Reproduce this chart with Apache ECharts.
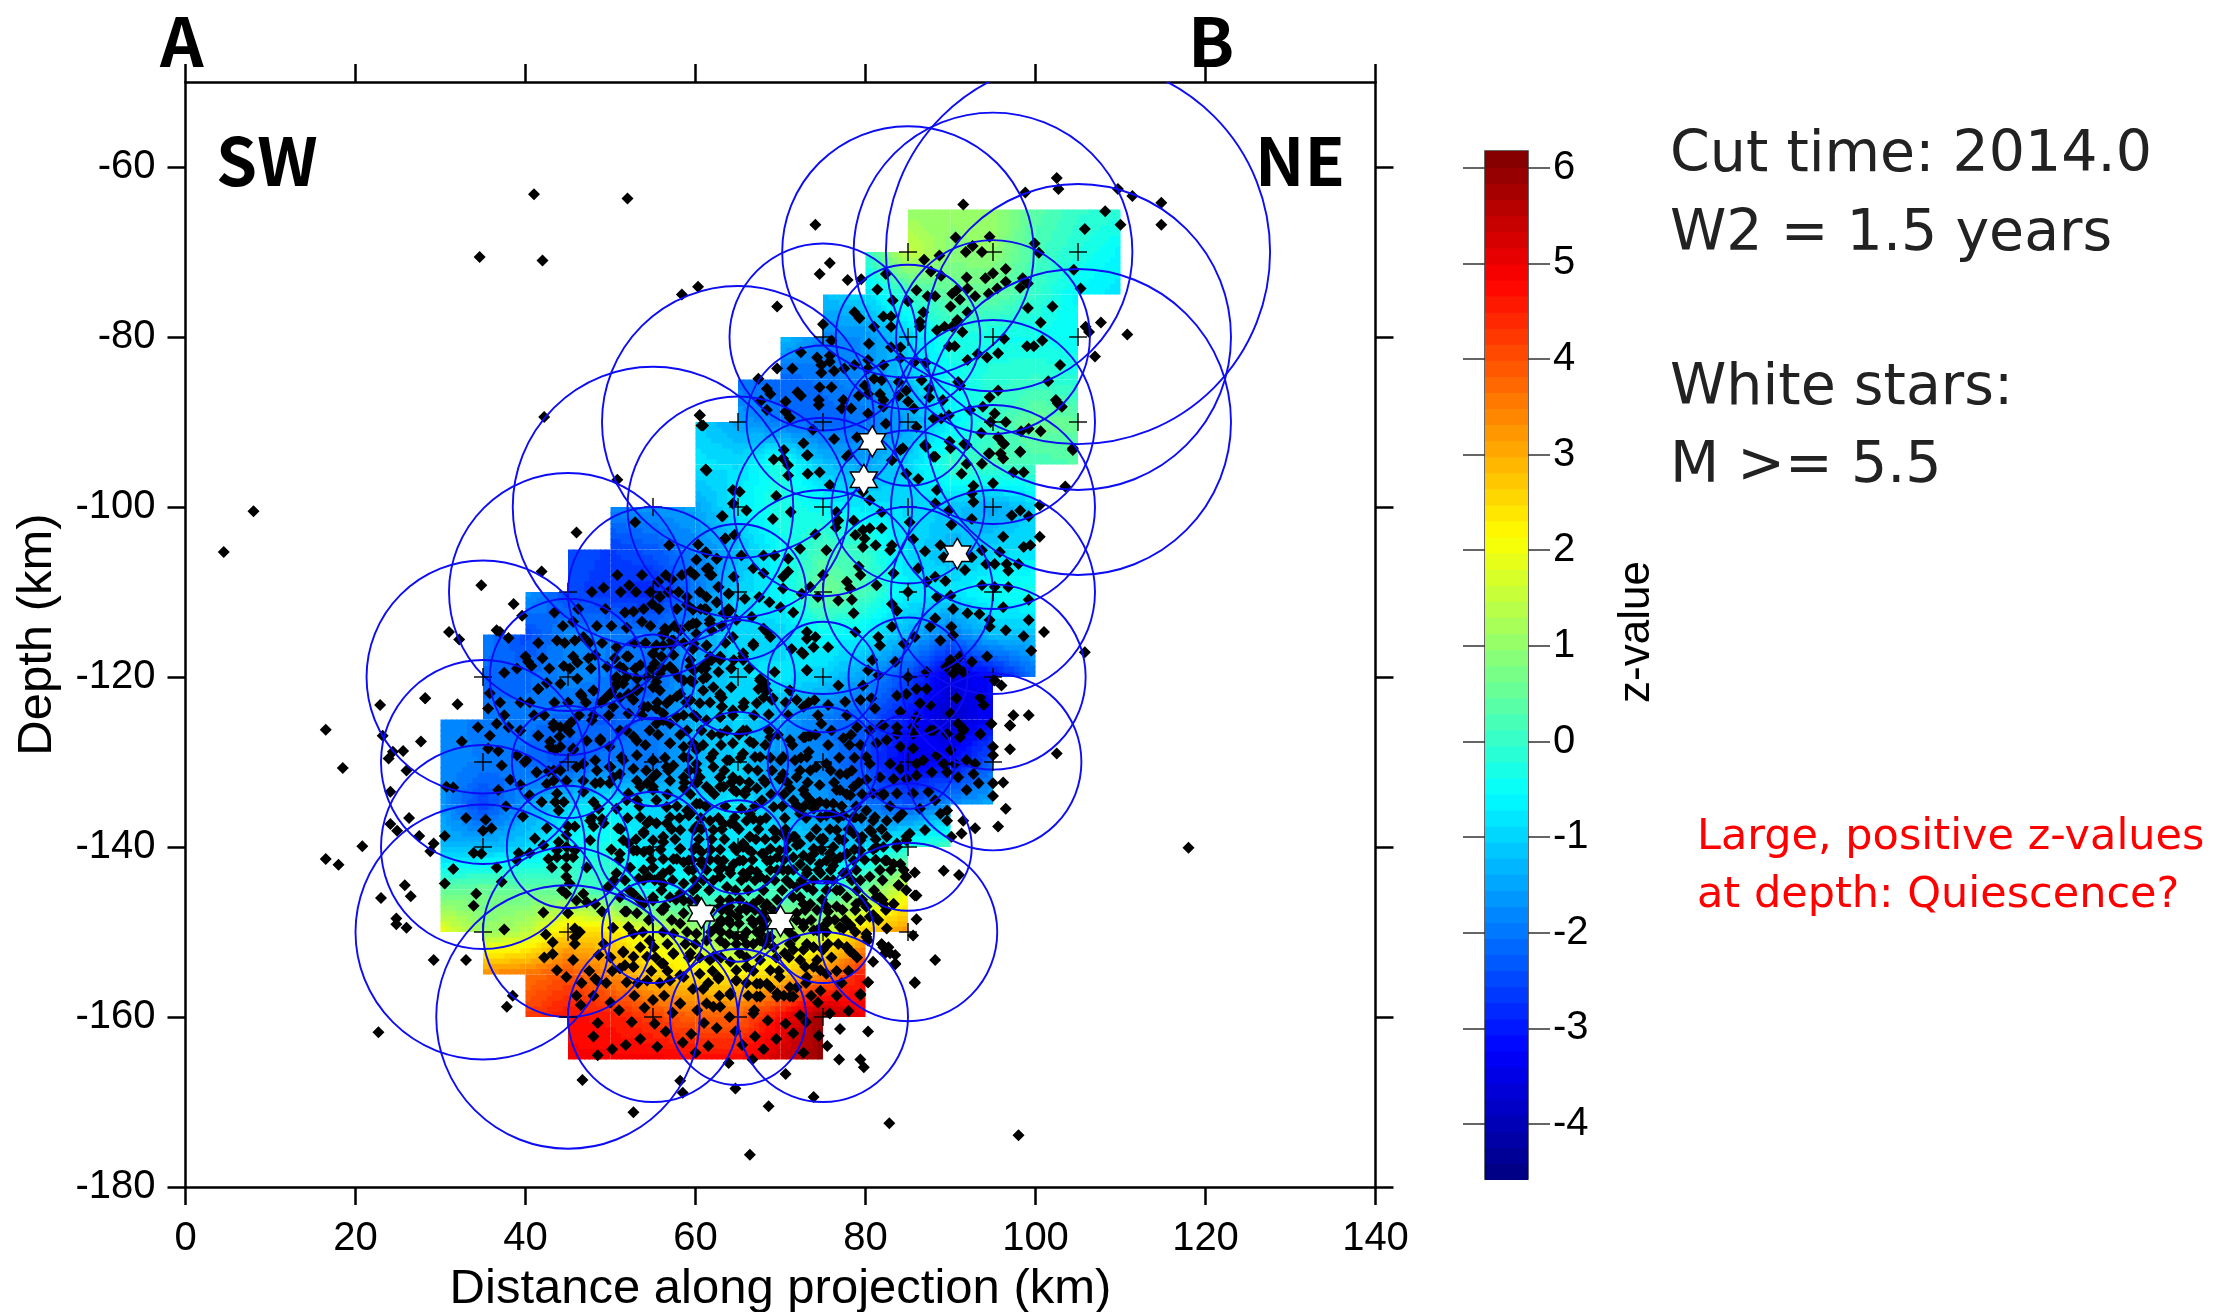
<!DOCTYPE html>
<html>
<head>
<meta charset="utf-8">
<title>z-value cross section</title>
<script src="https://cdn.jsdelivr.net/npm/echarts@6/dist/echarts.min.js"></script>
<style>
  html, body { margin: 0; padding: 0; background: #fff; }
  #chart { width: 2228px; height: 1312px; }
</style>
</head>
<body>
<div id="chart"></div>
<script>
const _ = null
const depthTicks = [-180, -160, -140, -120, -100, -80, -60]
const zTicks = [-4, -3, -2, -1, 0, 1, 2, 3, 4, 5, 6]
const zMin = -4.575
const zMax = 6.175

// z-value read at the grid nodes, one row per depth
const fieldX = [30, 35, 40, 45, 50, 55, 60, 65, 70, 75, 80, 85, 90, 95, 100, 105, 110]
const fieldDepth = [-65, -70, -75, -80, -85, -90, -95, -100, -105, -110, -115, -120, -125, -130, -135, -140, -145, -150, -155, -160, -165]
const zField = [
  [_, _, _, _, _, _, _, _, _, _, _, 1.0, 1.0, 1.1, 0.4, 0, -0.1],
  [_, _, _, _, _, _, _, _, _, _, 0, 1.6, 0.9, 1.0, 0.2, -0.2, -0.6],
  [_, _, _, _, _, _, _, _, _, -1.2, -0.9, 0, 0.5, 0.5, 0, -0.6, -0.8],
  [_, _, _, _, _, _, _, _, -1.2, -1.8, -1.7, -1, -0.2, -0.4, -0.4, -0.5, _],
  [_, _, _, _, _, _, _, -2, -2.2, -2, -1.7, -1.1, -0.5, -0.1, 0, -0.2, _],
  [_, _, _, _, _, _, -1, -1.5, -2, -2.2, -2, -1.5, -0.7, 0, 0.6, 0.5, _],
  [_, _, _, _, _, _, -0.8, -0.9, -0.2, -1.2, -1.5, -1, 0, 0.2, 0.2, 0.3, _],
  [_, _, _, _, -1.8, -1.6, -1.5, -0.7, -0.2, -0.5, -0.8, -0.9, -1.1, -1.5, -1.0, _, _],
  [_, _, _, -2.4, -2.6, -2.3, -1.8, -1.3, -0.5, 0.2, 0, -0.9, -1.3, -1, -0.8, _, _],
  [_, _, -1.5, -2.5, -2.7, -2.9, -2, -1, -0.6, 0.7, 0.2, -0.7, -0.8, -0.4, -0.3, _, _],
  [_, -1.9, -2.5, -1.8, -1.9, -2, -1.6, -0.9, -1, -0.5, -0.7, -1.3, -2, -1.2, -1.2, _, _],
  [_, -2.1, -2.1, -1.8, -1.9, -2.2, -1.4, -0.9, -0.8, -1, -1.6, -2.5, -3.6, -3.2, -2, _, _],
  [-1.7, -2, -2, -2.1, -2.3, -1.9, -1.3, -1, -1.4, -2, -2.3, -3, -3.8, -3.2, _, _, _],
  [-1.8, -1.9, -2.1, -2.4, -1.9, -2, -1.3, -1, -1.8, -1.8, -2.5, -3.4, -3.2, -2.2, _, _, _],
  [-1.6, -2.6, -1.6, -1, -0.7, -1, -1, -0.8, -1.3, -1.6, -2, -2.4, -1.7, -1.4, _, _, _],
  [-1.3, -1.3, -1, -0.4, -0.3, -0.9, -0.9, -0.8, -0.8, -1.2, -1, -0.2, 0.2, _, _, _, _],
  [0.4, 0.6, 0.5, 0.3, 0, -0.5, -0.3, 0, 0.1, -0.2, 0.6, 1.8, _, _, _, _, _],
  [2, 1, 1.4, 2.6, 2.4, 1.7, 1.2, 0.6, 1, 1.5, 2.7, 3.3, _, _, _, _, _],
  [_, 3.4, 3.6, 4, 3.4, 2.6, 2.4, 2.2, 2.6, 3.4, 4.7, _, _, _, _, _, _],
  [_, _, 4.2, 4.7, 4.6, 4.2, 3.8, 3.8, 4.8, 5.9, 4.9, _, _, _, _, _, _],
  [_, _, _, 4.9, 4.9, 4.9, 4.8, 4.8, 5.3, 5.9, _, _, _, _, _, _, _]
]

// sampling nodes: distance, depth, radius (km)
const samplingCircles = [
  [85, -70, 14.8], [95, -70, 16.4], [105, -70, 22.6],
  [75, -80, 11], [85, -80, 8.5], [95, -80, 11.4], [105, -80, 18],
  [65, -90, 16], [75, -90, 9], [85, -90, 7.5], [95, -90, 12], [105, -90, 18],
  [55, -100, 16.5], [65, -100, 13], [75, -100, 10.5], [85, -100, 9], [95, -100, 12],
  [45, -110, 14], [55, -110, 10], [65, -110, 8], [75, -110, 12], [85, -110, 10], [95, -110, 12],
  [35, -120, 13.7], [45, -120, 9.2], [55, -120, 5], [65, -120, 6.7], [75, -120, 6.5], [85, -120, 7], [95, -120, 10.9],
  [35, -130, 12], [45, -130, 6.6], [55, -130, 5.2], [65, -130, 5.9], [75, -130, 6.5], [85, -130, 5.5], [95, -130, 10.4],
  [35, -140, 12], [45, -140, 7.2], [55, -140, 6.5], [65, -140, 5.5], [75, -140, 4.3], [85, -140, 7.5],
  [35, -150, 15], [45, -150, 10], [55, -150, 6], [65, -150, 3.5], [75, -150, 6], [85, -150, 10.5],
  [45, -160, 15.5], [55, -160, 10], [65, -160, 8], [75, -160, 10]
]

const bigEvents = [[80.8, -92.3], [79.8, -96.8], [90.8, -105.5], [60.7, -147.8], [70, -148.7]]

const quakesOutlying = [
  [4.5, -105.3], [8, -100.5], [41, -63.2], [52, -63.7], [34.6, -70.6], [42, -71], [58.4, -75], [60.3, -74.1],
  [66.4, -176.2], [82.8, -172.5], [98, -173.9], [118, -140.1], [22.7, -161.8]
]

const quakesNorth = [
  [102.5, -61.3], [102.7, -62.6], [98.8, -63], [91.5, -64.4], [109.7, -62.6], [111.4, -63.4], [114.8, -64.2], [108.2, -65.2], [110, -66.8], [114.8, -66.8], [105.8, -67.3], [74.1, -66.8], [90.6, -68.3], [94.6, -68.2], [99.9, -69], [100.4, -70.1], [92.6, -69.3], [91.8, -70], [93.7, -70], [86.9, -70.9], [88.7, -70.4], [75.8, -71.3], [74.6, -72.6], [77.9, -73.3], [79.5, -73.2], [104.5, -72.1], [87.7, -72.3], [88.9, -72.8], [82.4, -72.6], [91.9, -73], [96.5, -72], [95, -72.5], [94.1, -73.1], [96.5, -73.5], [98.5, -73.1], [99.1, -73.7], [98.2, -74.2], [95.5, -74.3], [105.3, -74.3], [81.4, -74.4], [86, -74.5], [90.7, -74.5], [92, -74.3], [87.3, -75.2], [88.2, -75.2], [92.9, -75.2], [94.5, -74.9], [90.2, -74.9], [91.1, -75.6], [83.2, -75.7], [85, -75.8], [90, -76.4], [99.1, -76.6], [102, -76.4], [69.6, -76.4], [92, -77.1], [86.8, -77.1], [78.7, -77.1], [79.3, -77.8], [107.7, -78.3], [105.9, -78.8], [106.3, -79.4], [110.8, -79.7], [100.6, -78.3], [90.8, -78], [75, -78.5], [82.1, -77.6], [83, -77.6], [86.4, -78.2], [81, -78.8], [83, -78.8], [86.4, -78.8], [88.4, -79.2], [89.3, -78.8], [90.2, -78.8], [91.4, -79.4],
  [76, -80.4], [80.4, -80.8], [83, -81.2], [84.1, -81.2], [89.8, -81.1], [90.5, -81.1], [96.3, -80.2], [99, -81.1], [99.8, -81.1], [100.8, -80.4], [72.4, -81.8], [93.2, -82], [95.6, -81.9], [92, -82.7], [94.3, -82.4], [107, -82.3], [74.3, -82.4], [75.8, -82.2], [75.8, -82.9], [74.8, -83.3], [80.3, -82.7], [82.1, -83.3], [84.1, -82.5], [85.7, -83], [87.1, -83], [102.9, -83.3], [69.6, -83.7], [71.4, -83.7], [76.3, -84], [74.8, -84.2], [78.7, -83.3], [80.3, -83.7], [77.5, -83.7], [67.4, -84.9], [81, -84.9], [81.9, -85.1], [83.9, -85.3], [86.6, -85.1], [90.9, -85.3], [101.5, -85.2], [68.4, -86.1], [72, -86.5], [74.6, -85.9], [76, -85.9], [79.9, -85.7], [84.8, -86.3], [87.5, -86.1], [91.1, -85.7], [95.6, -86.3], [68.8, -86.7], [72.4, -86.9], [79.2, -86.9], [80.3, -86.7], [81.7, -86.7], [83.9, -86.9], [87.5, -87.1], [67.7, -87.5], [70.6, -87.6], [74.5, -87.4], [77.4, -87.4], [82.1, -87.4], [85, -87.6], [89.1, -87.4], [94.6, -87.1], [102.4, -87.4], [102.6, -87.8], [103.1, -88.2], [93.8, -88.2], [74.5, -88], [77.2, -88.4], [78.3, -88.4], [80.3, -89], [82.1, -88.2], [85.7, -88.4], [92.3, -88.6], [68.4, -88.6], [70.6, -88.8], [60.5, -89.2], [89.8, -89.2], [95.2, -89], [71.1, -89.5], [88.9, -89.6], [88, -89.6], [96.5, -90], [94.7, -90], [60.7, -90.4], [73.8, -90.9], [82.4, -90.2], [86, -90.6], [100.6, -91.1], [99.2, -90.8], [98.3, -91.1], [76.3, -92], [79, -91.8], [93.6, -91.3], [95.6, -91.8], [72.7, -92.5], [89.9, -92.3], [91.6, -92.6], [96.3, -92.6], [104.4, -93.1], [70.4, -93.3], [90, -93.1], [98.2, -93.5], [73.1, -93.9], [87.1, -92.9], [77.8, -94.1], [84.4, -93.1], [88, -94.1], [94.5, -93.7], [95.9, -93.7]
]

const quakesMiddleEast = [
  [61.2, -95.6], [69.2, -94.4], [70.3, -94.3], [70.9, -95.1], [73.2, -93.9], [73.2, -96.1], [70.9, -96.3], [74.6, -95.9], [75.8, -97.4], [78, -93.9], [64.4, -98], [65.2, -98.2], [69.5, -98.7], [66, -100.4], [64.4, -99.6], [63.1, -101.1], [71.2, -100.6], [69.1, -101.4], [76.6, -100.6], [76.8, -101.6], [76.5, -102.4], [78.6, -101.6], [80.5, -99.2], [79.7, -98.2], [83.1, -94.5], [84.1, -93.3], [87, -92.7], [88.2, -94.1], [84.8, -96.1], [86.2, -96.7], [88.4, -98], [88.2, -99.6], [91.9, -92.7], [91.9, -94.9], [93.7, -94.9], [91.3, -96.1], [94.6, -93.7], [96.2, -94.3], [96.2, -92.5], [98.2, -93.5], [97.4, -95.9], [98.6, -95.9], [95, -97.2], [92.7, -97.5], [92.5, -98.4], [92.7, -99.4], [92.5, -101.4], [89.8, -100.4], [90.1, -102.1], [85.2, -101.8], [81.9, -100.6], [97.2, -101], [98.2, -100.4], [99.2, -101.1], [100.5, -99.8], [103.5, -97.6], [104.4, -93.3],
  [100.5, -103.5], [98.6, -104.7], [99.4, -104.5], [96.2, -103.5], [95.8, -105.3], [88.8, -104.5], [92.5, -105.9], [93.7, -105.1], [87, -105.2], [89.2, -105.9], [91.7, -107.4], [86.2, -107.2], [94.2, -106.7], [95.2, -106.7], [96.6, -106.7], [98, -106.7], [96.8, -107.5], [79.7, -102.7], [80.5, -102.5], [81.9, -102.5], [78.8, -103.3], [79.9, -103.7], [79.7, -104.7], [81.2, -104.5], [83.1, -104.5], [82.9, -105.1], [85.6, -103.8], [74.1, -103.2], [72.3, -104.9], [75.4, -105.1], [63.5, -103.7], [64.6, -103.3], [61.2, -105.3], [65.4, -105.7], [68, -105.7], [69.3, -105.7], [70.9, -106.1], [62.5, -106.1],
  [61.5, -107.2], [61.9, -108], [66.8, -107.2], [68, -107.8], [70.9, -107.6], [70.3, -108.2], [64.5, -108.2], [79.2, -107], [79.4, -108], [75, -108], [83.3, -107.8], [88.2, -108.2], [87.2, -108.8], [89.4, -108.7], [93.7, -109.2], [95.2, -109.4], [96.8, -109.4], [62.7, -109.4], [70.3, -109.6], [73.5, -109.4], [77.8, -108.8], [78.2, -109.6], [81.3, -109.2], [85, -110], [63.9, -110.2], [61.3, -110.6], [67.5, -110.6], [68.7, -111.2], [72.5, -110.2], [62.5, -111.2], [65.8, -110.8], [74.4, -110.6], [78.4, -110.9], [83.1, -111.4], [76.8, -111], [88.4, -110.6], [90, -110.4], [99.2, -110.9],
  [71.5, -112.4], [64, -112.2], [63.3, -112.5], [61.1, -112], [70, -111.8], [83.7, -112.2], [78.6, -112.5], [96.2, -111.8], [90.3, -112], [92, -112.5], [93.4, -112.6], [88.2, -113.1], [99.2, -113.3], [94.6, -113.3], [66.6, -112.9], [61.7, -113.7], [83.1, -114.1], [90.1, -114.1], [87.6, -114.1], [96.5, -114.5], [94.6, -114.1], [68, -114.3], [73.1, -114.7], [78.8, -114.7], [101, -114.7], [98.6, -115.2], [64.4, -115.3], [68.8, -115.3], [90.3, -115.1], [85.8, -115.3], [81.5, -115.3], [74.1, -115.3], [88.8, -115.7], [73.1, -115.5],
  [66.8, -116.3], [81.7, -116.3], [84.5, -116.1], [73.9, -116.5], [75.6, -116.5], [71.3, -116.7], [72.5, -117.1], [99.5, -116.9], [105.8, -117.1], [65.6, -117.2], [61.3, -118.4], [62.9, -118], [65.6, -118], [80.8, -118], [83.5, -118.2], [90, -118], [91.1, -117.6], [92.5, -118.2], [94.3, -117.6], [89.5, -118.8], [90.7, -118.8], [73.1, -119.2], [80.3, -119.2], [87.2, -119.4], [90.3, -119.6], [91.5, -119.4], [61.3, -120], [64.2, -121.2], [67.6, -120.2], [68.2, -120.8], [69.3, -119.4], [81.5, -119.8], [85, -120], [95.2, -120.4], [96, -121], [76.8, -121], [79.7, -121], [67.4, -121.4], [71.1, -121.6], [62.1, -121.2], [86, -121.4], [87.2, -121.4], [83.7, -122.2], [84.8, -122], [93.5, -122.4], [90.7, -122.5], [63.1, -122.4], [68, -122.4], [69, -122.7], [71.9, -122.7], [74, -122.7], [77.6, -122.9], [79.4, -122.7], [80.7, -122.5], [86.4, -123.1], [87.6, -123.3], [93.9, -123.3],
  [63.1, -123.5], [65.6, -123.5], [68.6, -124.4], [72.7, -123.5], [75.6, -123.3], [81.1, -123.7], [84.1, -124.1], [97.4, -124.5], [99.2, -124.5], [86, -124.7], [90, -124.3], [74.4, -124.5], [77.8, -124.5], [61.3, -125.1], [62.9, -124.7], [74.8, -125.5], [81.9, -125.7], [85.6, -125.9], [90.9, -125.5], [94.8, -125.5], [97, -125.7], [65.6, -126.3], [68.6, -126.3], [76, -126.3], [83.7, -126.7], [88, -126.3], [91.5, -126.3], [93.5, -126.7], [73.3, -126.9], [62.9, -126.7]
]

const quakesMiddleWest = [
  [42.2, -89.4], [60.5, -89.2], [60.9, -90.4], [61.3, -95.7], [50.8, -96.8], [46, -103], [52.9, -101.8], [63.2, -101.1], [56.9, -104.5], [60.3, -104.4], [63.5, -103.7], [64.6, -103.3], [61.3, -105.4], [60.1, -106.2], [62.5, -106.1], [41.9, -107.6], [59.4, -107.6], [61.3, -107.3], [61.7, -108], [34.8, -109.2], [49.2, -109.5], [52.2, -109.2], [55.6, -108.8], [57.2, -108.5], [62.7, -109.4], [54.7, -110], [55.8, -110.6], [54.9, -111.4], [38.6, -111.4], [63.9, -110.2], [59, -110.6], [62.5, -111.2], [59, -111.5], [43.4, -112.4], [39.6, -112.8], [51.7, -112.4], [52.7, -112.3], [63.9, -112], [61.3, -112.1], [59.7, -112.1], [45.6, -113.5], [53.7, -113.5], [61.7, -113.3], [60.1, -113.7], [63.7, -112.6], [31, -114.7], [36.6, -114.5], [37, -114.7], [32.2, -115.6], [38, -115.4], [51.9, -114.2], [56.4, -114.3], [58.2, -114.5], [60.1, -114.9], [61.9, -114.5], [43.7, -115.7], [45.8, -115.7], [46.8, -115.3], [56.2, -115.1], [57.4, -115.7], [61.3, -116.3], [50.7, -116.5], [55.4, -116.3], [56.2, -116.3], [57.2, -116.3], [59.8, -116.1], [40, -117.6], [42, -117.8], [45.6, -117.6], [47.4, -117.8], [48.2, -117.4], [50.5, -117.8], [52.1, -117.6], [55, -117.3], [57.4, -117.4], [59.4, -118], [61.7, -117.6], [62.9, -117.8], [40.3, -118.2], [40.7, -118.7], [44.5, -118.7], [46.1, -118.3], [49.6, -118.8], [51.5, -119], [53.5, -118.6], [55.2, -118.4], [57, -118.8], [59.8, -119.2], [64.5, -118], [37.5, -119.5], [42.5, -120.7], [44.1, -120.8], [46.1, -120.2], [50.7, -120.2], [51.9, -120], [54.3, -120], [55.8, -119.6], [58, -120], [59.4, -120.4], [60.9, -120.2], [62.7, -119.4], [41.5, -121.4], [35.8, -121.9], [46.5, -122], [48, -121.6], [50.1, -121.8], [51.5, -120.8], [53.1, -121.6], [55.8, -121.6], [58.2, -122], [60.9, -121.6], [62.9, -122], [28.2, -122.5]
]

const quakesSouthWest = [
  [22.9, -123.3], [28.2, -122.5], [32, -123.2], [16.5, -126.2], [23.2, -126.9], [27.7, -127.6], [18.5, -130.7], [25.6, -128.7], [24.4, -128.8], [23.9, -129.6], [26, -131], [32.5, -127.6], [34.4, -125.9], [35.8, -126.9], [36.6, -125.5], [38, -125.9], [35.6, -123.7], [39.4, -123], [39.4, -126.3], [41.5, -121.4], [41.5, -126.9], [43.3, -125.5], [46.6, -122.2], [48, -121.6], [44.8, -126.1], [42.9, -127.6], [44, -127], [45.4, -125.3], [47.8, -125.1], [48.8, -127.3], [43.5, -128.6], [45.6, -128.4], [35.6, -128.4], [36.8, -128.7], [39, -129.2], [37.2, -130.4], [39.9, -130], [41.3, -131.2], [42.7, -131.1], [44.1, -131], [46.8, -130.2], [48.2, -129.8], [38.2, -132.1], [39.4, -132.7], [30.7, -132.9], [31.5, -133], [36.8, -133.3], [24.1, -133.5], [42.5, -132.6], [44.8, -132.2], [48.2, -132.5], [40.5, -133.9], [43.7, -133.7], [46.8, -133.5], [43.5, -134.7], [44.5, -134.7], [48, -134.7], [41.9, -134.7], [37.7, -135.2], [43.9, -135.7], [48.6, -135.5], [26.3, -136.6], [33, -136.6], [35.3, -136.8], [39.7, -136.4], [24.1, -137.3], [24.9, -138.1], [35, -138.1], [36, -137.8], [42.5, -137.8], [45, -137.6], [45.8, -137.6], [47.6, -136.9], [49, -136.7], [27.5, -138.7], [30.5, -138.7], [41.1, -139], [43.9, -139.4], [44.8, -138.6], [47.6, -139.2], [20.8, -139.9], [29.2, -139.6], [28.8, -140.5], [33.9, -140.7], [34.8, -140.8], [39.2, -140.7], [40.5, -140.7], [42.1, -139.8], [43.7, -140.4], [44.8, -140], [45.8, -140.4], [16.5, -141.4], [18, -142.1], [39, -141.6], [42.7, -141.4], [43.7, -141.2], [44.8, -141.2], [45.6, -141.2], [31.5, -142.6], [36.6, -142.4], [43.1, -142.4], [44.8, -142.4], [47.2, -142.4], [44.8, -143.5], [45.2, -144.3], [37.2, -144.1], [30.5, -144.3], [25.8, -144.5], [26.5, -145.8], [23, -146], [34.2, -145.5], [33.9, -146.9], [44.3, -145.1], [44.8, -145.5], [46.8, -145.5], [46, -146.3], [47.2, -146.5], [48.2, -146.7], [42.1, -147.7], [45, -147.8], [49, -147.6], [51.7, -147.6], [24.8, -148.4], [24.8, -149.1], [26, -149.5], [37.5, -149.7], [42.4, -150.3], [45.8, -149.6], [46.4, -150], [45.8, -150.6], [50.3, -149.5], [43.2, -151.2], [45.8, -151.4], [29.2, -153.3], [33, -153.3], [42.2, -153], [43.2, -152.6], [45.6, -153.3], [43.7, -154.5], [48.6, -152.7], [51.5, -152.4], [52.7, -152.9], [54.3, -152.9], [52.7, -154.1], [56.2, -153.7], [57.4, -152.6], [54.6, -151], [55.1, -151.8], [58.2, -155.1], [44.8, -155.3], [48.2, -155.5], [51.1, -154.3],
  [49.5, -122.4], [50.7, -121], [52.1, -122], [53.3, -121.4], [55, -121.2], [56.2, -124.3], [57, -122.7], [50.3, -123.5], [52.1, -124.3], [53.9, -123.5], [55.4, -123.7], [57.8, -124.7], [59.4, -122.7], [59, -126.3], [51.1, -126.3], [52.7, -127], [54.6, -126.3], [57, -127.8], [59.7, -127.8], [49.9, -128.2], [51.3, -129.4], [53.1, -129.2], [55, -129.8], [56.6, -130.6], [58.6, -129.4], [49.9, -130.6], [51.1, -131.4], [53.1, -132.2], [55, -131.8], [58.6, -133.1], [60.1, -131], [49.9, -132.5], [52.1, -133.7], [56.6, -135.3], [55, -133.3], [50.7, -135.5], [53.1, -134.5], [59.4, -136.1], [47.8, -136.5], [49.2, -137.2], [48, -137.6], [50.9, -137.8], [54.3, -137.2], [55.4, -137.2], [56.6, -137.2], [53.9, -138.4], [58.2, -138], [60.1, -137.6], [51.5, -139.2], [53.1, -140.4], [54.6, -140.4], [56.2, -138.8], [58.2, -140.2], [60.1, -140], [51.1, -140.8], [52.3, -142.4], [57.8, -141.4], [55, -142.4], [56.2, -143.1], [59.7, -142.7], [50.7, -143.1], [53.9, -143.9], [56.2, -144.3], [58.6, -144.3], [60.1, -144.7], [49.7, -144.7], [51.1, -145.9], [52.7, -145.5], [55, -145.9], [57, -145.9], [59.4, -146.3], [53.9, -146.7], [56.2, -147.4], [58.2, -149], [60.1, -150.2], [57.4, -150.2]
]

const quakesSouthEast = [
  [97, -125.7], [94.8, -125.5], [95, -128.2], [97, -128.5], [102.5, -129], [95, -129.2], [92.7, -131.4], [93.3, -132.5], [91.9, -133.3], [95, -132.5], [96.2, -132.4], [95, -134], [96.5, -135.5], [95.6, -137.6], [91.5, -136.9], [92.9, -137.8], [91.3, -138.4], [90.1, -138.8], [85.8, -143], [89.2, -142.8], [91, -143.3], [86, -145.7], [86, -148.5], [82.5, -149.6], [85.6, -150.4], [88.2, -153.3], [85.8, -156], [81.9, -151.4], [82.7, -151.8], [83.5, -152.7], [82.3, -152.5], [83.5, -153.8], [80.3, -155.9], [79.4, -157.3],
  [89.6, -135.7], [89.6, -136.9], [88.8, -136.1], [88.2, -134.5], [86.4, -135.5], [84.3, -136.1], [82.5, -136.9], [81.1, -136.5], [85.2, -138.4], [87, -138], [84.8, -139.2], [83.7, -140], [82.5, -138.8], [80.7, -138.2], [81.3, -140], [79.6, -138.8], [79.4, -140.4], [82.3, -141.6], [83.3, -142], [80.5, -143.5], [81.7, -142.7], [83.9, -144.5], [84.8, -145.1], [84.5, -142.7], [84.8, -143.5], [79.4, -143.9], [81.3, -145.9], [83.3, -146.7], [82.1, -146.7], [80.1, -147], [76.6, -145.1], [75.4, -147], [76.4, -148.6], [78.2, -149.2], [77.4, -149.6], [79.4, -148.6], [80.5, -148.2], [80.1, -150.2], [80.3, -151], [74.6, -149.6], [75.4, -149],
  [92.9, -130.2], [91.9, -129.8], [90.5, -130.2], [89.2, -130.2], [90, -128.6], [88.4, -129.2], [86.8, -129.8], [86, -130.2], [91.1, -127.1], [91.5, -126.1], [93.5, -126.7], [89.6, -126.7], [87.6, -126.3], [85.6, -126.7], [83.7, -125.9], [82.1, -125.7], [80.5, -126.3], [82.5, -127.4], [84.1, -128.2], [85.6, -128.4], [81.3, -127.8], [80.1, -129.4], [80.5, -130.2], [82.9, -130.2], [84.1, -130.8], [86, -131.6], [87.8, -131.2], [89.6, -131.2], [90.9, -131.8], [81.7, -131.8], [83.3, -132], [84.8, -132], [80.1, -132.1], [82.1, -133.9], [83.7, -133.7], [85.6, -133.7], [80.9, -133.7], [87.4, -133.5], [78.6, -132.9], [77, -131.4], [77.8, -131.4], [75.4, -130.2], [73.3, -128.8], [72.9, -127.1], [73.5, -126.9], [77.4, -127.2], [79, -125.9], [79.4, -128], [76.6, -133.3], [78.2, -133.9], [73.5, -134.5], [74.6, -134.7], [73.9, -135.5], [71.9, -135.1], [76.2, -134.9], [75.4, -136.3], [77.4, -136.3], [78.8, -136.5],
  [71.7, -138.8], [71.9, -139.8], [72.7, -141], [73.9, -140.2], [75, -139], [76.6, -138], [77.4, -139.2], [75.8, -140.8], [77.8, -140.8], [74.6, -142], [73.1, -142.7], [76.2, -142.2], [71.5, -142.7], [73.9, -143.9], [77.4, -143.1], [71.9, -144.7], [70.3, -138.4], [69.9, -140.4], [68.8, -141.6], [68.8, -140.2], [67.8, -140.8], [69.6, -142.7], [67.2, -142.9], [66.4, -138.8], [65.6, -140], [64.5, -140], [66.6, -140.6], [65.2, -141.6], [64, -142.7], [65.6, -143.1], [63.1, -142.4], [68.4, -143.9], [70.7, -143.9], [62.1, -143.9], [60.7, -142], [60.7, -140.6], [59.2, -141.6], [59.8, -138], [61.7, -136.9], [64.6, -136.5], [63.3, -137.3], [69.4, -138.2], [67.6, -136.9], [66.4, -136.1], [65.4, -135.5], [68, -132.1], [66.4, -127.6], [63.7, -126.3], [64, -129.8], [62.1, -129], [60.1, -128.6], [62.9, -131.8], [65.2, -132.2], [66.2, -130.8], [61.7, -133.3], [59.9, -132.5], [63.3, -132.9], [64.8, -133.5], [67.2, -133.1], [60.5, -134.9], [59, -135.7], [69.2, -135.3], [71.1, -133.1], [69.9, -132], [67.8, -134.5], [65.6, -129], [67, -129.4], [60.7, -126.3], [68.8, -127.1], [71.1, -127.4], [70.3, -129.4], [71.7, -129.8], [73.5, -131], [71.9, -131.8], [74.6, -132.7],
  [64, -147], [66, -147], [63.9, -148.6], [65, -148.2], [66.6, -148.6], [68.2, -148.6], [64, -150.2], [65.6, -150.6], [67.6, -150.2], [68.6, -150.6], [63.5, -151.4], [64.8, -151.4], [66.8, -151.4], [69.2, -151.8], [61.7, -147.4], [62.5, -149.4], [62.9, -146.3], [68.2, -147], [71.5, -145.9], [72.7, -146.7], [71.9, -147.8], [70.9, -149.6], [72.7, -149], [73.9, -149.8], [71.7, -150.6], [73.9, -151.8], [75, -152.1], [77.8, -151.8], [78.6, -152.6], [72.7, -152.1], [70.5, -152.5], [71.5, -152.1], [62.7, -155.5], [64.8, -155.7], [66, -154.1], [64.1, -157.4], [62.1, -158.8], [58.2, -158.4], [65.2, -152.5], [61.7, -153.3], [59.4, -152.5], [60.5, -154.9], [67.6, -156.1], [68.8, -156.5], [71.1, -157.6], [69.6, -157.6], [67.6, -157.6], [72.3, -159.8], [68.8, -154.5], [72.3, -153.3], [73.9, -154.1], [75.4, -154.9], [73.1, -155.3], [71.9, -156.5], [75.8, -159.6], [66.8, -159.6], [62.9, -158.8]
]

const quakesDeep = [
  [48.5, -164.5], [50.2, -163.8], [52.7, -171.2], [46.7, -167.4], [58.2, -167.5], [58.5, -168.9], [64.7, -168.4], [68.6, -170.5], [73.9, -169.4], [76.9, -165], [79.4, -165], [79.8, -165.9], [66.7, -165], [61.5, -163.4], [63.9, -165.4], [70.6, -166.7], [72.7, -164.2], [51.8, -163.3], [58.5, -163], [64.7, -161.7], [70.6, -160.8], [37.8, -158.8], [38.5, -157.5], [46, -157.5], [51, -159.2], [55.2, -160.8], [60.2, -159.2], [48.5, -155.8], [66.9, -159.2], [74.4, -158.3], [80.3, -161.7],
  [46.5, -158.6], [48.5, -160.7], [50, -158.3], [52.5, -160.6], [54, -158.9], [56.5, -161.7], [57.3, -159.5], [59.5, -162], [61, -160.7], [62.5, -161.3], [64, -160], [67, -162.3], [68.5, -160.4], [69.5, -162.6], [71.5, -161.9], [73, -160.6], [74.5, -162.2], [75.5, -163.4], [77, -161.4], [78, -159.3], [48, -162.3], [53.5, -162.6], [55.5, -163.5], [60, -164.2], [65.5, -163.3], [68, -163.8]
]

const quakesCoreUpper = [
  [55.4, -116.3], [55, -117.2], [56, -117.6], [57.2, -115.7], [56.2, -114.9], [59.7, -116.7], [61.3, -116.3], [62.9, -117.6], [61.9, -118], [60.7, -119], [59.4, -118.8], [57.4, -119.2], [58.6, -120.4], [59.7, -120.6], [55.4, -120.6], [53.1, -120.2], [51.1, -118.8], [51.9, -117.6], [50.7, -120], [50.7, -120.8], [50, -122], [51.1, -122.4], [52.7, -122.7], [54.4, -123.5], [56.6, -123.1], [57.8, -122.3], [60.5, -123.1], [60.1, -124.7], [56.2, -125.1], [55.4, -125.5], [57, -125.5], [62.9, -122.3], [63.1, -123.5], [62.9, -124.7], [64.4, -123.9], [67.6, -120.4], [68.4, -121.6], [67.8, -121.2], [69.1, -122.5], [67.2, -123.1], [71.1, -121.6], [73.1, -119.2], [72.7, -117.3], [68.4, -114.7], [66.8, -116.1], [65.6, -117.6], [64.8, -113.3], [64, -112.2], [61.7, -113.7], [59.7, -113.7], [56.6, -114.5],
  [45.2, -125.5], [44.1, -125.9], [43.3, -125.9], [42.9, -128.2], [44.1, -128.2], [45.6, -128.6], [47.2, -127.5], [48.8, -127.5], [45.2, -126.5], [41.5, -126.9], [40.1, -129.8], [41.3, -131.2], [43.3, -131], [46, -130.6], [48.4, -131], [50, -130.6], [51.5, -129.8], [52.7, -130.8], [50.3, -131.8], [51.9, -126.3], [53.1, -127.5], [55, -129.8], [55.4, -131.4], [57.4, -130.4], [57, -127.8], [58.6, -128.2], [60.1, -130.2], [60.5, -131.8], [62.1, -130.6], [63.7, -129.8], [64.4, -127.8], [66.8, -127.8], [67.6, -129.4], [70, -129.8], [70.3, -131.4], [72.7, -127.1], [73.1, -129.4], [74.2, -130.6], [66, -126.3], [64.4, -131.8], [62.9, -131.8], [58.6, -131.8], [57, -132.2], [54.3, -132.5], [48.8, -132.4], [46.8, -132.2], [43.3, -132.2]
]

const quakesCoreLower = [
  [53.5, -132.9], [55, -132.9], [61.3, -132.9], [62.9, -132.9], [64.5, -133.3], [66, -133.3], [72.7, -133.3], [74.3, -134.9], [75.4, -134.9], [77, -133.3], [82.1, -133.7],
  [51.9, -134.5], [55.4, -134.5], [53.5, -136.5], [54.6, -136.9], [55.4, -137.2], [57, -136.5], [59.2, -136.3], [60.1, -134.9], [64.1, -137.2], [64.8, -137.6], [66, -136.9], [66.8, -136.7], [71.9, -135.3], [73.5, -134.5], [71.5, -134.5], [72.3, -136.1], [74.7, -136.5], [76.2, -136.1], [78.6, -136.5], [80.1, -135.7], [80.9, -136.9],
  [53.9, -138.2], [55, -139.2], [56.2, -139.4], [52.1, -139.6], [58.2, -140.2], [62.1, -138], [66.4, -138.8], [65.6, -139.6], [64.8, -140.4], [69.2, -138], [69.4, -139], [71.5, -138.8], [72.3, -139.6], [73.5, -138.8], [75, -139.2], [76.2, -140], [78.6, -138.4], [79.4, -139.2], [80.5, -138], [84.8, -138.8], [83.7, -139.6],
  [52.7, -140.4], [53.9, -140.6], [56.2, -141.4], [57.4, -141.4], [58.6, -141.8], [60.7, -141.6], [63.3, -141.6], [64.5, -142], [65.6, -141.6], [68, -140.8], [68.4, -141.6], [69.6, -141.2], [71.5, -141.2], [72.3, -142], [73.9, -140.8], [75.4, -141.6], [77, -141.2], [78.6, -141.6], [82.5, -141.6], [84.1, -142], [82.1, -140],
  [51.7, -143.9], [53.3, -143.7], [54.5, -143.5], [55.8, -143.5], [58.2, -145.5], [59.9, -143.9], [62.9, -143.5], [64.1, -143.1], [66, -143.5], [63.7, -144.7], [67.6, -143.5], [68.8, -142.7], [70.3, -142.7], [71.1, -144.3], [73.1, -143.1], [74.7, -143.1], [76.2, -143.9], [77.8, -143.1], [77, -145.1], [84.7, -143.5], [83.9, -144.5], [85.8, -145.7], [73.1, -144.7],
  [51.9, -147.6], [53.1, -147.8], [55, -146.3], [56.4, -147], [58.6, -147.8], [58.6, -146.3], [62.9, -147], [64.1, -147.8], [66, -147.4], [66.8, -146.7], [68, -147.8], [68.4, -146.7], [72.3, -145.9], [74.3, -147.4], [73.5, -146.7], [76.6, -147], [77.8, -145.9], [78.9, -146.7], [80.1, -147], [81.7, -145.9], [83.3, -146.7], [75.6, -147.6], [80.9, -148],
  [62.9, -149], [64.1, -149], [65.1, -149], [66.8, -149], [68, -149.4], [68.8, -150.6], [71.9, -148.6], [72.7, -149.4], [74.3, -149.8], [75.6, -148.6], [77, -149.4], [78.2, -149.2], [80.1, -150.6], [52.1, -149.4], [52.7, -150.2], [61.3, -151], [64.8, -150.6], [67.6, -151], [62.9, -151],
  [51.5, -152.3], [53.5, -151.8], [57.4, -152.5], [56, -153.7], [52.7, -154.1], [51.7, -153.9], [62.1, -152.9], [64.1, -153.5], [64.8, -154.5], [67.6, -153.3], [73.1, -151.4], [73.9, -151.8], [74.3, -153.3], [72.9, -154.1], [74.7, -154.5], [77.8, -151.8], [78.2, -152.3], [82.1, -151.8], [82.9, -152.5], [80.9, -153.5], [83.5, -153.7],
  [51.9, -155.9], [54.3, -155.7], [57, -155.7], [58.6, -155.3], [59.7, -156.7], [60.9, -156.7], [62.7, -155.3], [64.8, -155.7], [64.1, -157.2], [67.2, -156.1], [68.4, -156.1], [69.9, -155.3], [67.2, -157.6], [69.6, -157.2], [71.1, -156.5], [71.5, -157.6], [74.7, -156.9], [79.4, -157.4], [80.3, -155.9], [85.8, -155.9], [55, -158], [58.2, -158.4], [61.3, -158.4]
]

// denser part of the cloud, depth followed by the distances on that strip
const quakeStrips = [
  [-108, [50.8, 53.7, 56.5, 58.4, 59.9]],
  [-110, [47.8, 51.2, 53, 56.8, 58, 60.5]],
  [-112, [46.2, 49.4, 53.9, 55.7, 57.8, 60.6]],
  [-114, [44.4, 48.4, 50.1, 54.7, 57.5, 59.2, 63.1]],
  [-116, [41.5, 44.6, 47.5, 49, 52.8, 54.1, 58.6, 63.5]],
  [-119, [39, 42.8, 45.2, 47.7, 52.9, 54.8, 56.1, 61.2, 64.2, 66.3]],
  [-123, [37, 40.5, 43.4, 45, 47.1, 48.9, 55.5, 58.9, 61.7, 65.7, 70.6, 73.3]],
  [-124.5, [37.5, 41, 42.2, 46.3, 48, 49.8, 53.7, 58.6, 59.8, 64.4, 66.9, 70.9]],
  [-126.8, [55.6, 58.2, 61.9, 65.1, 69.7, 74.1, 78.3]],
  [-128, [54.1, 60.9, 63, 68.2, 71.4, 75.6, 78.1]],
  [-129.5, [56.4, 59.1, 61.8, 65.3, 68.8, 72.4, 76.9, 78.7]],
  [-131, [54.2, 56.8, 59.3, 63.4, 67.3, 69, 72.3, 75.9, 78.4]],
  [-132.4, [58.7, 60.2, 64.2, 66.3, 68.2, 70.8, 73.2, 76.3, 79.2]],
  [-133.8, [56.7, 59.4, 62.2, 65.8, 68.9, 70.4, 72.9, 77.8, 79.6]],
  [-135.2, [53.4, 57.8, 61.2, 63.5, 67, 70.2, 72.8, 77.2, 78.9, 82.9]],
  [-136.6, [52, 58.1, 60.6, 62.7, 68.3, 70.5, 73, 76.8, 79.5, 83.8]],
  [-137.9, [51.2, 57.2, 60.7, 63.1, 65.1, 67.4, 70.6, 74.2, 75.8, 78, 81.9]],
  [-139.1, [53, 57.6, 60.4, 61.9, 63.4, 67.1, 68.2, 70.9, 74.7, 76.9, 81.2]],
  [-140.3, [50.1, 55.9, 59.8, 61.8, 62.9, 66.2, 70.7, 74.8, 78.7, 80.9]],
  [-141.5, [51, 54.8, 59.6, 61.7, 62.6, 66.7, 70.4, 73.5, 76.5, 79.9, 81.2]],
  [-142.7, [53.9, 57, 59.2, 61.3, 62.7, 66.5, 70.9, 74.4, 75.9, 78.9, 83]],
  [-143.9, [50.4, 55.2, 57.3, 60.9, 65.4, 67, 69.3, 72.5, 75.5, 78.4, 82]],
  [-145.1, [52.2, 56, 59.7, 61.6, 64.7, 66.2, 68, 70.2, 73.8, 75.4, 79, 81]],
  [-146.2, [53.4, 57.7, 60.2, 64, 65.2, 67.5, 69.6, 74.9, 79.6, 82]],
  [-147.4, [56, 60, 63.1, 65.2, 67, 69.1, 72.9, 77.3, 78.8, 82.4]],
  [-148.6, [54.5, 57.2, 63, 67.6, 69.5, 73.6, 77.6, 81.5]],
  [-150, [53.8, 56.2, 59, 61.8, 63, 66, 67.2, 71, 75.4, 78.8]],
  [-151.4, [49.2, 56.7, 58.8, 60, 66, 68.2, 71.1, 75.6, 76.8]],
  [-153, [50, 55.3, 59.2, 60.5, 63, 66, 69.5, 71, 76, 79]],
  [-154.6, [47.5, 50.2, 54.8, 56.7, 62, 66.8, 69.8, 76.6, 78]],
  [-156, [46.6, 49.5, 53.2, 55.8, 61.5, 66, 73, 77.2]],
  [-157.5, [48, 52.8, 56.3, 62.8, 66.2, 70.4, 73.6, 76.6]]
]

const quakes = [].concat(
  quakesOutlying, quakesNorth, quakesMiddleEast, quakesMiddleWest, quakesSouthWest, quakesSouthEast, quakesDeep,
  quakesCoreUpper, quakesCoreLower,
  quakeStrips.flatMap(([depth, xs]) => xs.map(x => [x, depth]))
)

// 64 level jet, same as the colour bar
const LEVELS = 64
function jetColor(z) {
  const clamp = v => Math.max(0, Math.min(1, v))
  const level = Math.max(0, Math.min(LEVELS - 1, Math.floor((z - zMin) / (zMax - zMin) * LEVELS)))
  const t = (level + 0.5) / LEVELS
  const r = clamp(Math.min(4 * t - 1.5, -4 * t + 4.5))
  const g = clamp(Math.min(4 * t - 0.5, -4 * t + 3.5))
  const b = clamp(Math.min(4 * t + 0.5, -4 * t + 2.5))
  return `rgb(${Math.round(r * 255)},${Math.round(g * 255)},${Math.round(b * 255)})`
}

// one item per grid cell with all four corners known
const fieldCells = []
fieldDepth.slice(0, -1).forEach((depth, row) => {
  fieldX.slice(0, -1).forEach((x, col) => {
    const z = [zField[row][col], zField[row][col + 1], zField[row + 1][col], zField[row + 1][col + 1]]
    if (z.every(v => v !== null)) {
      fieldCells.push([x, depth, fieldX[col + 1], fieldDepth[row + 1], z[0], z[1], z[2], z[3]])
    }
  })
})

const colorBarLevels = []
for (let i = 0; i < LEVELS; i++) {
  colorBarLevels.push([zMin + (zMax - zMin) * i / LEVELS, zMin + (zMax - zMin) * (i + 1) / LEVELS])
}

const SUBDIVISIONS = 8
function renderFieldCell(params, api) {
  const from = api.coord([api.value(0), api.value(1)])
  const to = api.coord([api.value(2), api.value(3)])
  const zs = [api.value(4), api.value(5), api.value(6), api.value(7)]
  const children = []
  const w = (to[0] - from[0]) / SUBDIVISIONS
  const h = (to[1] - from[1]) / SUBDIVISIONS
  for (let i = 0; i < SUBDIVISIONS; i++) {
    for (let j = 0; j < SUBDIVISIONS; j++) {
      const u = (i + 0.5) / SUBDIVISIONS
      const v = (j + 0.5) / SUBDIVISIONS
      const z = zs[0] * (1 - u) * (1 - v) + zs[1] * u * (1 - v) + zs[2] * (1 - u) * v + zs[3] * u * v
      children.push({
        type: 'rect',
        shape: {
          x: from[0] + i * w,
          y: from[1] + j * h,
          width: w + (i < SUBDIVISIONS - 1 ? 1 : 0),
          height: h + (j < SUBDIVISIONS - 1 ? 1 : 0)
        },
        style: { fill: jetColor(z) }
      })
    }
  }
  return { type: 'group', children }
}

function renderCircle(params, api) {
  const c = api.coord([api.value(0), api.value(1)])
  const edge = api.coord([api.value(0) + api.value(2), api.value(1)])
  return {
    type: 'group',
    children: [
      {
        type: 'circle',
        shape: { cx: c[0], cy: c[1], r: edge[0] - c[0] },
        style: { fill: 'none', stroke: '#0c0cf5', lineWidth: 1.9 }
      },
      { type: 'line', shape: { x1: c[0] - 9, y1: c[1], x2: c[0] + 9, y2: c[1] }, style: { stroke: '#000', lineWidth: 1.4 } },
      { type: 'line', shape: { x1: c[0], y1: c[1] - 9, x2: c[0], y2: c[1] + 9 }, style: { stroke: '#000', lineWidth: 1.4 } }
    ]
  }
}

function renderColorLevel(params, api) {
  const lo = api.coord([0, api.value(0)])
  const hi = api.coord([1, api.value(1)])
  return {
    type: 'rect',
    shape: { x: lo[0], y: hi[1], width: hi[0] - lo[0], height: lo[1] - hi[1] + 1 },
    style: { fill: jetColor((api.value(0) + api.value(1)) / 2) }
  }
}

const axisFont = { fontFamily: 'Liberation Sans, Arial, sans-serif', fontSize: 40, color: '#000' }
const titleFont = { fontFamily: 'Liberation Sans, Arial, sans-serif', fontSize: 49, color: '#000' }
const frameLine = { show: true, onZero: false, lineStyle: { color: '#000', width: 2.5 } }
const frameTick = { show: true, inside: false, length: 18, lineStyle: { color: '#000', width: 2.5 } }
const depthTick = { ...frameTick, customValues: depthTicks }
const barTick = { show: true, length: 22, customValues: zTicks, lineStyle: { color: '#333', width: 1.5 } }
const headFont = 'Noto Sans CJK JP, Noto Sans, sans-serif'
const noteFont = 'DejaVu Sans, sans-serif'

const chart = echarts.init(document.getElementById('chart'))
chart.setOption({
  animation: false,
  backgroundColor: '#fff',
  grid: [
    { left: 185.5, top: 82, width: 1190, height: 1105, outerBoundsMode: 'none' },
    { left: 1485, top: 151, width: 43, height: 1028, outerBoundsMode: 'none', show: true, borderColor: '#333', borderWidth: 1.5, backgroundColor: 'transparent' }
  ],
  xAxis: [
    {
      type: 'value', gridIndex: 0, min: 0, max: 140, interval: 20, position: 'bottom',
      name: 'Distance along projection (km)', nameLocation: 'middle', nameGap: 78,
      nameTextStyle: titleFont, axisLine: frameLine, axisTick: frameTick,
      axisLabel: { ...axisFont, margin: 32 }, splitLine: { show: false }
    },
    {
      type: 'value', gridIndex: 0, min: 0, max: 140, interval: 20, position: 'top',
      axisLine: frameLine, axisTick: frameTick, axisLabel: { show: false }, splitLine: { show: false }
    },
    { type: 'value', gridIndex: 1, min: 0, max: 1, show: false }
  ],
  yAxis: [
    {
      type: 'value', gridIndex: 0, min: -180, max: -50, interval: 20, position: 'left',
      name: 'Depth (km)', nameLocation: 'middle', nameGap: 124, nameRotate: 90,
      nameTextStyle: titleFont, axisLine: frameLine, axisTick: depthTick,
      axisLabel: { ...axisFont, margin: 30, customValues: depthTicks }, splitLine: { show: false }
    },
    {
      type: 'value', gridIndex: 0, min: -180, max: -50, interval: 20, position: 'right',
      axisLine: frameLine, axisTick: depthTick, axisLabel: { show: false }, splitLine: { show: false }
    },
    {
      type: 'value', gridIndex: 1, min: zMin, max: zMax, position: 'left',
      axisLine: { show: false }, axisTick: barTick, axisLabel: { show: false }, splitLine: { show: false }
    },
    {
      type: 'value', gridIndex: 1, min: zMin, max: zMax, position: 'right',
      axisLine: { show: false }, axisTick: barTick,
      axisLabel: { ...axisFont, margin: 25, customValues: zTicks },
      splitLine: { show: false }
    }
  ],
  series: [
    {
      type: 'custom', name: 'z-value', xAxisIndex: 0, yAxisIndex: 0, z: 1, silent: true,
      data: fieldCells, renderItem: renderFieldCell
    },
    {
      type: 'scatter', name: 'Earthquakes', xAxisIndex: 0, yAxisIndex: 0, z: 2, silent: true,
      symbol: 'diamond', symbolSize: 12, itemStyle: { color: '#000', opacity: 1 }, data: quakes
    },
    {
      type: 'custom', name: 'Sampling circles', xAxisIndex: 0, yAxisIndex: 0, z: 3, silent: true, clip: true,
      data: samplingCircles, renderItem: renderCircle
    },
    {
      type: 'scatter', name: 'M >= 5.5', xAxisIndex: 0, yAxisIndex: 0, z: 4, silent: true,
      symbol: 'path://M10 0L12.9 5L18.66 5L15.8 10L18.66 15L12.9 15L10 20L7.1 15L1.34 15L4.2 10L1.34 5L7.1 5Z',
      symbolSize: [27, 31], itemStyle: { color: '#fff', opacity: 1, borderColor: '#000', borderWidth: 1.5 }, data: bigEvents
    },
    {
      type: 'custom', name: 'Colour bar', xAxisIndex: 2, yAxisIndex: 2, z: 1, silent: true,
      data: colorBarLevels, renderItem: renderColorLevel
    }
  ],
  graphic: [
    { type: 'text', left: 160, top: 7, style: { text: 'A', font: `bold 68px ${headFont}`, fill: '#000' } },
    { type: 'text', left: 1188, top: 7, style: { text: 'B', font: `bold 68px ${headFont}`, fill: '#000' } },
    { type: 'text', left: 216, top: 128, style: { text: 'SW', font: `bold 66px ${headFont}`, fill: '#000' } },
    { type: 'text', left: 1255, top: 128, style: { text: 'NE', font: `bold 66px ${headFont}`, fill: '#000' } },
    { type: 'text', x: 1637, y: 632, rotation: Math.PI / 2, style: { text: 'z-value', font: '44px Liberation Sans, Arial, sans-serif', fill: '#000', align: 'center', verticalAlign: 'middle' } },
    { type: 'text', left: 1670, top: 128, style: { text: 'Cut time: 2014.0', font: `57px ${noteFont}`, fill: '#222' } },
    { type: 'text', left: 1670, top: 207, style: { text: 'W2 = 1.5 years', font: `57px ${noteFont}`, fill: '#222' } },
    { type: 'text', left: 1670, top: 361, style: { text: 'White stars:', font: `57px ${noteFont}`, fill: '#222' } },
    { type: 'text', left: 1670, top: 439, style: { text: 'M >= 5.5', font: `57px ${noteFont}`, fill: '#222' } },
    { type: 'text', left: 1697, top: 816, style: { text: 'Large, positive z-values', font: `43px ${noteFont}`, fill: '#ff0000' } },
    { type: 'text', left: 1697, top: 874, style: { text: 'at depth: Quiescence?', font: `43px ${noteFont}`, fill: '#ff0000' } }
  ]
})
</script>
</body>
</html>
